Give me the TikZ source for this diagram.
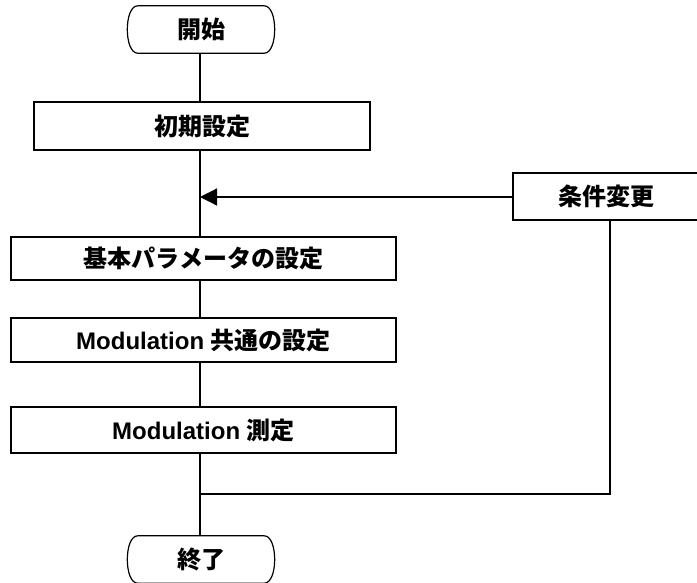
\documentclass[tikz,border=0pt]{standalone}
\usepackage{fontspec}
\setmainfont{Liberation Sans}
\newfontfamily\cjk{Noto Sans CJK JP}
\usetikzlibrary{arrows.meta}
\newcommand\jtext[1]{{\cjk\bfseries #1}}
\begin{document}
\begin{tikzpicture}[x=1pt,y=-1pt,
  lw/.style={line width=1.2pt},
  procbox/.style={draw,lw,rectangle,inner sep=0pt,font=\fontsize{24}{28}\selectfont\bfseries},
  termbox/.style={draw=none,rectangle,inner sep=0pt,minimum width=126pt,minimum height=47pt,font=\fontsize{24}{28}\selectfont\bfseries},
  conn/.style={lw},
  arrowconn/.style={lw,-{Triangle[length=17pt,width=17pt]}}
]
\useasboundingbox (0,0) rectangle (697,582);
\fill[white] (0,0) rectangle (697,582);

% terminals
\node[termbox] (start) at (201,29.5) {\jtext{開始}};
\draw[lw] (start.north west) -- (start.north east)
  .. controls ([xshift=14pt]start.north east) and ([xshift=14pt]start.south east) .. (start.south east)
  -- (start.south west)
  .. controls ([xshift=-14pt]start.south west) and ([xshift=-14pt]start.north west) .. cycle;

\node[termbox] (end) at (201,559.5) {\jtext{終了}};
\draw[lw] (end.north west) -- (end.north east)
  .. controls ([xshift=14pt]end.north east) and ([xshift=14pt]end.south east) .. (end.south east)
  -- (end.south west)
  .. controls ([xshift=-14pt]end.south west) and ([xshift=-14pt]end.north west) .. cycle;

% process boxes
\node[procbox,minimum width=336pt,minimum height=48pt] (b1) at (202,126) {\jtext{初期設定}};
\node[procbox,minimum width=385pt,minimum height=43pt] (b2) at (203.5,258.5) {\jtext{基本パラメータの設定}};
\node[procbox,minimum width=385pt,minimum height=44pt] (b3) at (203.5,340) {Modulation \jtext{共通の設定}};
\node[procbox,minimum width=385pt,minimum height=46pt] (b4) at (203.5,430) {Modulation \jtext{測定}};
\node[procbox,minimum width=187pt,minimum height=47pt] (chg) at (606.5,196.5) {\jtext{条件変更}};

% junction coordinates
\coordinate (top) at (200,53);
\coordinate (j1) at (200,197);
\coordinate (j2) at (200,494);
\coordinate (j3) at (610,494);

% main flow
\draw[conn] (start.south -| top) -- (top |- b1.north);
\draw[conn] (top |- b1.south) -- (top |- b2.north);
\draw[conn] (top |- b2.south) -- (top |- b3.north);
\draw[conn] (top |- b3.south) -- (top |- b4.north);
\draw[conn] (top |- b4.south) -- (top |- end.north);

% loop back
\draw[arrowconn] (chg.west |- j1) -- (j1);
\draw[conn] (chg.south -| j3) -- (j3) -- (j2);
\end{tikzpicture}
\end{document}
